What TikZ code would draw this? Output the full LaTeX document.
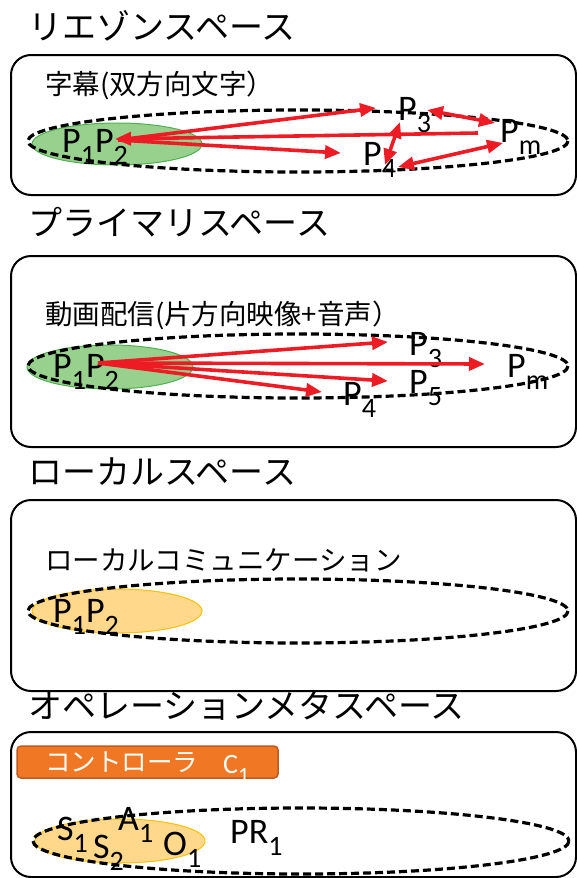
\documentclass[tikz,border=0pt]{standalone}
\usepackage{fontspec}
\setmainfont{Carlito}
\newfontfamily\jpf{Noto Sans CJK JP}
\usetikzlibrary{arrows.meta}
\newcommand\sbx[1]{\raisebox{-0.34em}{\scalebox{0.78}{#1}}}
\definecolor{arrred}{RGB}{237,28,36}
\definecolor{gfill}{RGB}{152,208,142}
\definecolor{gdraw}{RGB}{80,176,80}
\definecolor{ofill}{RGB}{255,216,140}
\definecolor{odraw}{RGB}{255,192,0}
\definecolor{ctrlfill}{RGB}{240,120,36}
\definecolor{ctrldraw}{RGB}{190,90,30}
\begin{document}
\begin{tikzpicture}[x=1pt,y=-1pt,
  title/.style={anchor=west,inner sep=0,font=\jpf\fontsize{34}{34}\selectfont},
  sublabel/.style={anchor=west,inner sep=0,font=\jpf\fontsize{27.5}{27.5}\selectfont},
  plabel/.style={anchor=base west,inner sep=0,font=\fontsize{36}{36}\selectfont},
  panel/.style={draw=black,line width=2pt,rounded corners=20pt},
  region/.style={draw=black,line width=3.2pt,dash pattern=on 8pt off 4pt},
  greenarea/.style={fill=gfill,draw=gdraw,line width=1pt},
  orangearea/.style={fill=ofill,draw=odraw,line width=1pt},
  arr/.style={draw=arrred,line width=3.6pt,-{Triangle[length=16pt,width=13pt]}},
  darr/.style={draw=arrred,line width=3.6pt,{Triangle[length=16pt,width=13pt]}-{Triangle[length=16pt,width=13pt]}},
]
\useasboundingbox (0,0) rectangle (577,878);

% ---------- Panel 1 ----------
\node[title] (t1) at (28,26) {リエゾンスペース};
\draw[panel] (11,55) rectangle (576,195);
\node[sublabel] (l1) at (45,85) {字幕(双方向文字）};
\draw[greenarea] (117,144) ellipse [x radius=85, y radius=21];
\draw[region] (298,141) ellipse [x radius=270, y radius=31];
\node[plabel] (a12) at (62,152) {P\sbx{1}P\sbx{2}};
\node[plabel] (a3) at (398,120) {P\sbx{3}};
\node[plabel] (am) at (500,142) {P\sbx{m}};
\node[plabel] (a4) at (363,165) {P\sbx{4}};
\coordinate (s1) at (118,140);
\coordinate (s1end) at (115,139);
\coordinate (a3in) at (376,108);
\coordinate (a4in) at (341,153);
\coordinate (amout) at (478,133);
\coordinate (a3r) at (427,110);
\coordinate (aml) at (495,123);
\coordinate (a3b) at (400,122);
\coordinate (a4t) at (385,165);
\coordinate (amb) at (503,143);
\coordinate (a4r) at (398,167);
\draw[arr] (s1) -- (a3in);
\draw[arr] (s1) -- (a4in);
\draw[arr] (amout) -- (s1end);
\draw[darr] (a3r) -- (aml);
\draw[darr] (a3b) -- (a4t);
\draw[darr] (amb) -- (a4r);

% ---------- Panel 2 ----------
\node[title] (t2) at (28,222) {プライマリスペース};
\draw[panel] (11,256) rectangle (576,447);
\node[sublabel] (l2) at (45,315) {動画配信(片方向映像+音声）};
\draw[greenarea] (110,367) ellipse [x radius=83, y radius=22];
\draw[region] (298,366) ellipse [x radius=270, y radius=32];
\node[plabel] (b12) at (53,377) {P\sbx{1}P\sbx{2}};
\node[plabel] (b3) at (409,355) {P\sbx{3}};
\node[plabel] (bm) at (507,377) {P\sbx{m}};
\node[plabel] (b5) at (409,393) {P\sbx{5}};
\node[plabel] (b4) at (343,405) {P\sbx{4}};
\coordinate (s2) at (98,363);
\coordinate (b3in) at (388,342);
\coordinate (bmin) at (485,364);
\coordinate (b5in) at (388,381);
\coordinate (b4in) at (322,392);
\draw[arr] (s2) -- (b3in);
\draw[arr] (s2) -- (bmin);
\draw[arr] (s2) -- (b5in);
\draw[arr] (s2) -- (b4in);

% ---------- Panel 3 ----------
\node[title] (t3) at (28,472) {ローカルスペース};
\draw[panel] (11,500) rectangle (576,691);
\node[sublabel] (l3) at (45,560) {ローカルコミュニケーション};
\draw[orangearea] (117,611) ellipse [x radius=85, y radius=22];
\draw[region] (298,611) ellipse [x radius=270, y radius=32];
\node[plabel] (c12) at (53,622) {P\sbx{1}P\sbx{2}};

% ---------- Panel 4 ----------
\node[title] (t4) at (28,706) {オペレーションメタスペース};
\draw[panel] (11,732) rectangle (576,877);
\draw[fill=ctrlfill,draw=ctrldraw,line width=1.5pt,rounded corners=4pt] (17,746) rectangle (278,778);
\node[anchor=west,inner sep=0,text=white,font=\jpf\fontsize{25.5}{25.5}\selectfont] (ctrl) at (45,762) {コントローラ};
\node[anchor=base west,inner sep=0,text=white,font=\fontsize{28}{28}\selectfont] (c1) at (223,773) {C\sbx{1}};
\draw[orangearea] (120,841) ellipse [x radius=85, y radius=22];
\draw[region] (301,841) ellipse [x radius=268, y radius=33];
\node[plabel] (d1) at (57,840) {S\sbx{1}};
\node[plabel] (d2) at (93,858) {S\sbx{2}};
\node[plabel] (d3) at (118,830) {A\sbx{1}};
\node[plabel] (d4) at (163,855) {O\sbx{1}};
\node[plabel] (d5) at (230,843) {PR\sbx{1}};
\end{tikzpicture}
\end{document}
